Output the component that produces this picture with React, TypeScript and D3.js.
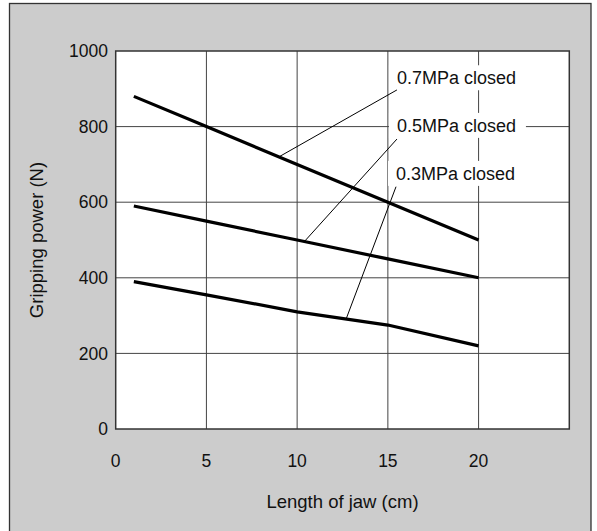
import React from "react";
import * as d3 from "d3";

const W = 597;
const H = 531;

// data
const jawLength = [1, 5, 10, 15, 20];
const p07 = [880, 800, 700, 600, 500];
const p05 = [590, 550, 500, 450, 400];
const p03 = [390, 355, 310, 275, 220];
const seriesNames = ["0.7MPa closed", "0.5MPa closed", "0.3MPa closed"];
const xTicks = [0, 5, 10, 15, 20];
const yTicks = [0, 200, 400, 600, 800, 1000];
// annotation anchors (data units): point on curve, label position
const leaderAnchorX = [9, 10.4, 12.7];
const labelX = [15.5, 15.5, 15.45];
const labelBaseline = [912, 786, 659];
const leaderEndY = [897, 767, 641];

const FONT = "Liberation Sans, Arial, Helvetica, sans-serif";

export default function App() {
  const x = d3.scaleLinear().domain([0, 25]).range([115.7, 569.3]);
  const y = d3.scaleLinear().domain([0, 1000]).range([429, 51]);
  const series = [p07, p05, p03];
  const line = d3
    .line<number>()
    .x((_, i) => x(jawLength[i]))
    .y((d) => y(d));

  const interp = (vals: number[], xv: number) => {
    for (let i = 0; i < jawLength.length - 1; i++) {
      if (xv >= jawLength[i] && xv <= jawLength[i + 1]) {
        const t = (xv - jawLength[i]) / (jawLength[i + 1] - jawLength[i]);
        return vals[i] + t * (vals[i + 1] - vals[i]);
      }
    }
    return vals[vals.length - 1];
  };

  const [x0, x1] = x.range();
  const [yb, yt] = y.range();

  return (
    <svg
      width={W}
      height={H}
      style={{ position: "absolute", left: 0, top: 0, background: "#fff" }}
      fontFamily={FONT}
    >
      <rect x={9.5} y={3.5} width={581.5} height={560} fill="#cccccc" stroke="#333" strokeWidth={1.3} />
      <rect x={x0} y={yt} width={x1 - x0} height={yb - yt} fill="#fff" />
      {/* grid */}
      {yTicks.slice(1, -1).map((t) => (
        <line key={"gy" + t} x1={x0} x2={x1} y1={y(t)} y2={y(t)} stroke="#444" strokeWidth={1} />
      ))}
      {xTicks.slice(1).map((t) => (
        <line key={"gx" + t} x1={x(t)} x2={x(t)} y1={yt} y2={yb} stroke="#444" strokeWidth={1} />
      ))}
      <rect x={x0} y={yt} width={x1 - x0} height={yb - yt} fill="none" stroke="#333" strokeWidth={1.5} />
      {/* label boxes */}
      {seriesNames.map((n, i) => (
        <rect
          key={"lb" + i}
          x={x(labelX[i]) - 8}
          y={y(labelBaseline[i]) - 19}
          width={137}
          height={25}
          fill="#fff"
        />
      ))}
      {/* series */}
      {series.map((s, i) => (
        <path key={"s" + i} d={line(s) || ""} fill="none" stroke="#000" strokeWidth={3.2} strokeLinejoin="round" />
      ))}
      {/* leaders */}
      {series.map((s, i) => (
        <line
          key={"ld" + i}
          x1={x(leaderAnchorX[i])}
          y1={y(interp(s, leaderAnchorX[i]))}
          x2={x(labelX[i])}
          y2={y(leaderEndY[i])}
          stroke="#000"
          strokeWidth={1}
        />
      ))}
      {seriesNames.map((n, i) => (
        <text key={"lt" + i} x={x(labelX[i])} y={y(labelBaseline[i])} fontSize={18} fill="#111">
          {n}
        </text>
      ))}
      {/* y tick labels */}
      {yTicks.map((t) => (
        <text key={"yt" + t} x={108} y={y(t)} dy="0.35em" dx={0} textAnchor="end" fontSize={17.5} fill="#111">
          {t}
        </text>
      ))}
      {xTicks.map((t) => (
        <text key={"xt" + t} x={x(t)} y={467} textAnchor="middle" fontSize={17.5} fill="#111">
          {t}
        </text>
      ))}
      <text x={(x0 + x1) / 2} y={508} textAnchor="middle" fontSize={18.5} fill="#111">
        Length of jaw (cm)
      </text>
      <text transform={`translate(43,${(yb + yt) / 2}) rotate(-90)`} textAnchor="middle" fontSize={18.5} fill="#111">
        Gripping power (N)
      </text>
    </svg>
  );
}
